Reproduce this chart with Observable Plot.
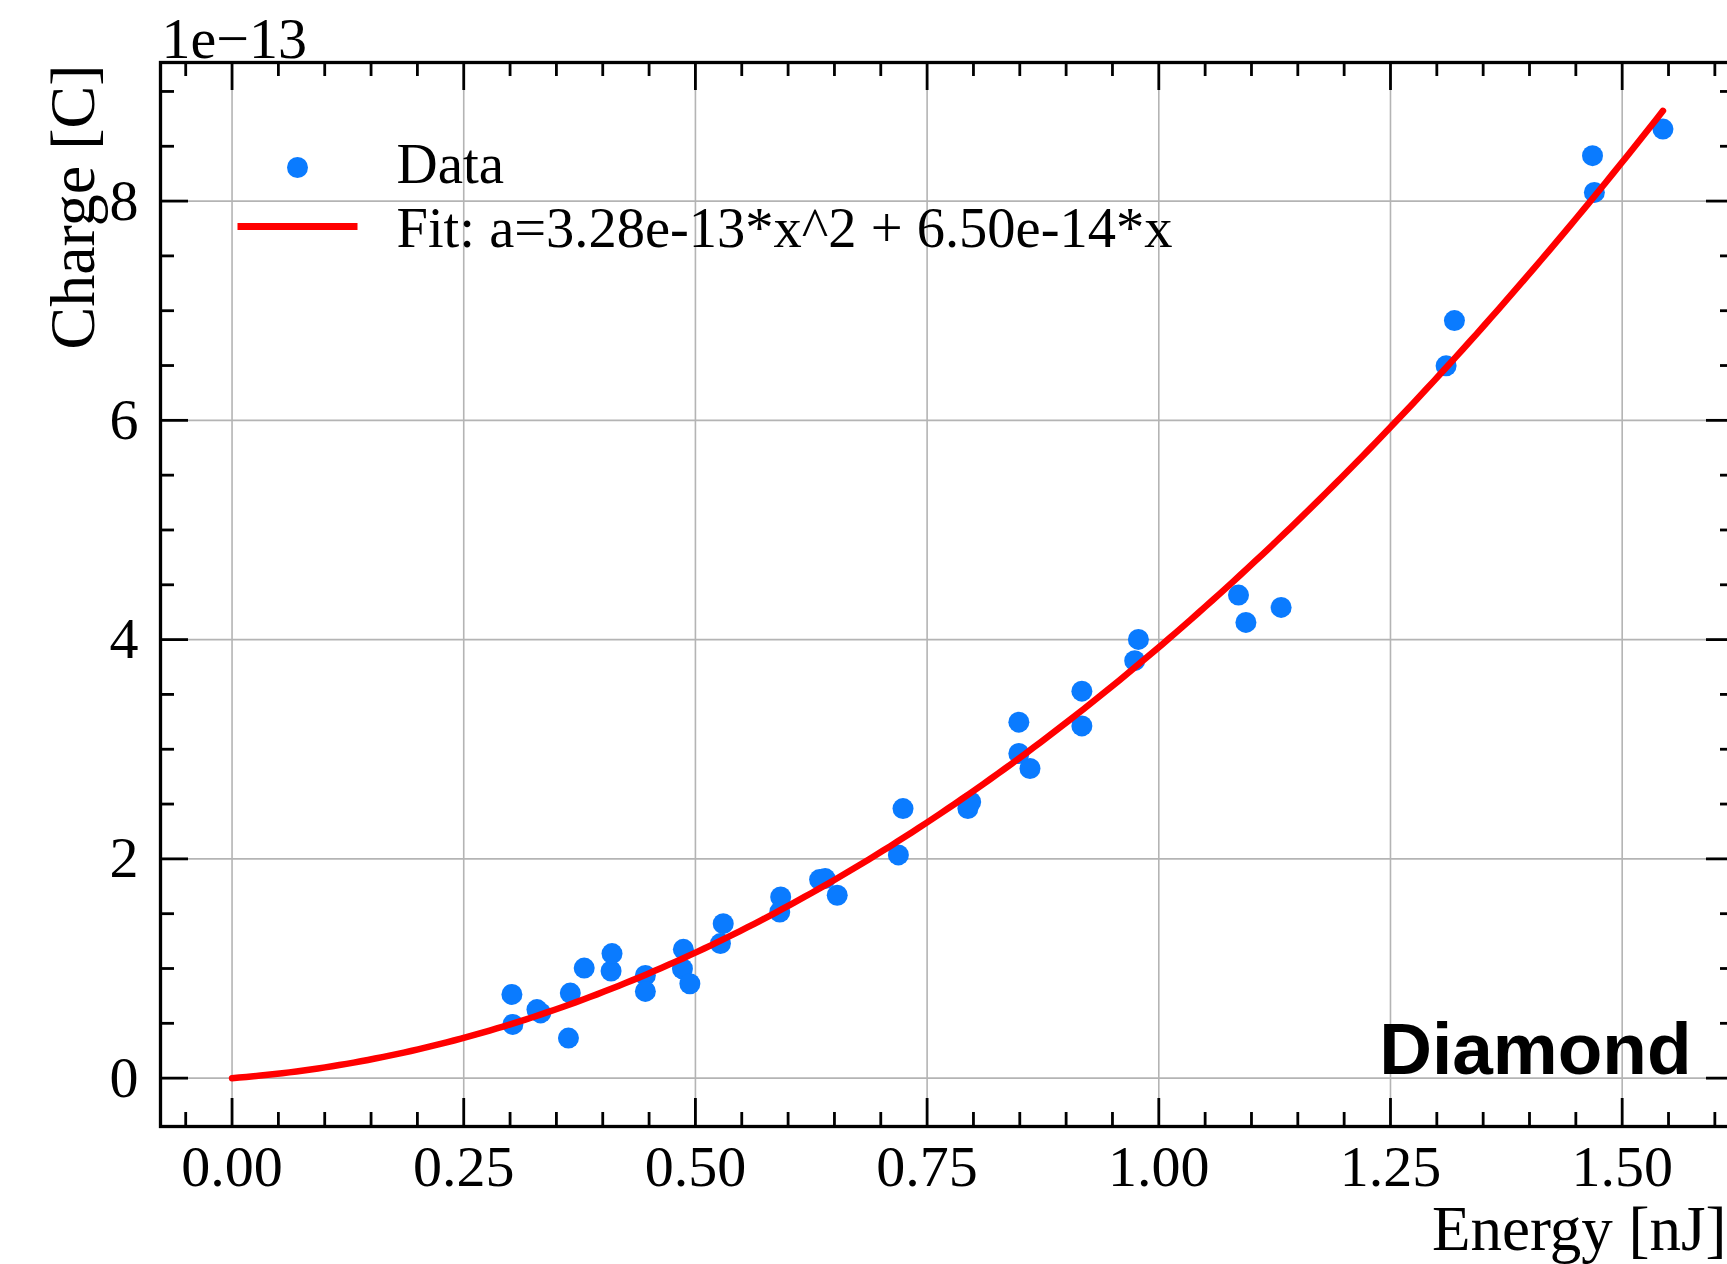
<!DOCTYPE html>
<html>
<head>
<meta charset="utf-8">
<script src="https://cdn.jsdelivr.net/npm/d3@7"></script>
<script src="https://cdn.jsdelivr.net/npm/@observablehq/plot@0.6"></script>
<style>
  html, body { margin: 0; padding: 0; background: #fff; overflow: hidden; }
  #chart { width: 1727px; height: 1264px; overflow: hidden; position: relative; }
  #chart svg { max-width: none !important; }
</style>
</head>
<body>
<div id="chart"></div>
<script>
// ---- data (charge in units of 1e-13 C, energy in nJ) ----
const energy = [0.302, 0.303, 0.329, 0.333, 0.363, 0.365, 0.380, 0.409, 0.410, 0.446,
                0.446, 0.487, 0.486, 0.494, 0.527, 0.530, 0.592, 0.591, 0.634, 0.640,
                0.653, 0.719, 0.724, 0.794, 0.797, 0.849, 0.849, 0.861, 0.917, 0.917,
                0.974, 0.978, 1.086, 1.094, 1.132, 1.310, 1.319, 1.468, 1.470, 1.544];
const charge = [0.764, 0.490, 0.625, 0.595, 0.365, 0.776, 1.004, 0.977, 1.136, 0.937,
                0.791, 1.175, 0.998, 0.861, 1.227, 1.409, 1.652, 1.515, 1.811, 1.820,
                1.668, 2.036, 2.459, 2.459, 2.519, 3.247, 2.961, 2.824, 3.530, 3.213,
                3.808, 4.002, 4.406, 4.157, 4.294, 6.497, 6.910, 8.414, 8.079, 8.657];

// fit coefficients as printed in the legend (in units of 1e-13)
const fitA = 3.28;   // 3.28e-13 * x^2
const fitB = 0.65;   // 6.50e-14 * x

const xTicks = [0, 0.25, 0.5, 0.75, 1.0, 1.25, 1.5];
const yTicks = [0, 2, 4, 6, 8];

const dataLabel = "Data";
const fitLabel = "Fit: a=3.28e-13*x^2 + 6.50e-14*x";
const offsetLabel = "1e\u221213";
const sampleLabel = "Diamond";
const xLabel = "Energy [nJ]";
const yLabel = "Charge [C]";

// ---- derived tables ----
const points = energy.map((e, i) => ({energy: e, charge: charge[i]}));
const xMax = d3.max(energy);
const fitN = 200;
const fitCurve = d3.range(fitN + 1).map(i => {
  const x = xMax * i / fitN;
  return {energy: x, charge: fitA * x * x + fitB * x};
});
const xMinor = d3.range(-1, 33).filter(i => i % 5 !== 0).map(i => i * 0.05);
const yMinor = d3.range(1, 19).filter(i => i % 4 !== 0).map(i => i * 0.5);

// matplotlib-like 5% margins
const x0 = 0, x1 = xMax;
const y0 = 0, y1 = Math.max(d3.max(charge), d3.max(fitCurve, d => d.charge));
const xDomain = [x0 - 0.05 * (x1 - x0), x1 + 0.05 * (x1 - x0)];
const yDomain = [y0 - 0.05 * (y1 - y0), y1 + 0.05 * (y1 - y0)];

// ---- layout ----
const W = 1760, H = 1264;
const mL = 160, mR = 26, mT = 62, mB = 138;
const fw = W - mL - mR, fh = H - mT - mB;
const majorLen = 28, minorLen = 14, tickW = 2.8;

const serif = "'Liberation Serif', 'Times New Roman', 'DejaVu Serif', serif";
const sans = "'Liberation Sans', Arial, 'DejaVu Sans', sans-serif";
const blue = "#0a7bff";
const red = "#ff0000";
const gridColor = "#b4b4b4";

const lineSymbol = {
  draw(ctx) { ctx.rect(-60, -3.4, 120, 6.8); }
};

const svg = Plot.plot({
  width: W,
  height: H,
  marginLeft: mL,
  marginRight: mR,
  marginTop: mT,
  marginBottom: mB,
  style: {background: "#fff", color: "#000", fontFamily: serif, fontSize: "58px", maxWidth: "none", overflow: "visible"},
  x: {domain: xDomain, ticks: xTicks, tickFormat: ".2f", tickSize: 0, tickPadding: 18, label: null},
  y: {domain: yDomain, ticks: yTicks, tickFormat: "d", tickSize: 0, tickPadding: 22, label: null},
  marks: [
    // grid
    Plot.ruleX(xTicks, {stroke: gridColor, strokeWidth: 1.6}),
    Plot.ruleY(yTicks, {stroke: gridColor, strokeWidth: 1.6}),
    // data
    Plot.dot(points, {x: "energy", y: "charge", r: 10.5, fill: blue}),
    Plot.line(fitCurve, {x: "energy", y: "charge", stroke: red, strokeWidth: 6.5}),
    // frame
    Plot.frame({stroke: "#000", strokeWidth: 3.3}),
    // inward ticks: bottom / top
    Plot.ruleX(xTicks, {insetTop: fh - majorLen, stroke: "#000", strokeWidth: tickW}),
    Plot.ruleX(xMinor, {insetTop: fh - minorLen, stroke: "#000", strokeWidth: tickW}),
    Plot.ruleX(xTicks, {insetBottom: fh - majorLen, stroke: "#000", strokeWidth: tickW}),
    Plot.ruleX(xMinor, {insetBottom: fh - minorLen, stroke: "#000", strokeWidth: tickW}),
    // inward ticks: left / right
    Plot.ruleY(yTicks, {insetRight: fw - majorLen, stroke: "#000", strokeWidth: tickW}),
    Plot.ruleY(yMinor, {insetRight: fw - minorLen, stroke: "#000", strokeWidth: tickW}),
    Plot.ruleY(yTicks, {insetLeft: fw - majorLen, stroke: "#000", strokeWidth: tickW}),
    Plot.ruleY(yMinor, {insetLeft: fw - minorLen, stroke: "#000", strokeWidth: tickW}),
    // offset text
    Plot.text([offsetLabel], {text: d => d, frameAnchor: "top-left", dx: 1, dy: -5,
      textAnchor: "start", lineAnchor: "bottom", fontSize: 58, fontFamily: serif}),
    // axis labels
    Plot.text([yLabel], {text: d => d, frameAnchor: "top-left", dx: -67, dy: 2, rotate: -90,
      textAnchor: "end", lineAnchor: "bottom", fontSize: 64, fontFamily: serif}),
    Plot.text([xLabel], {text: d => d, frameAnchor: "bottom-right", dx: -8, dy: 123,
      textAnchor: "end", lineAnchor: "bottom", fontSize: 63, fontFamily: serif}),
    // legend
    Plot.dot([dataLabel], {frameAnchor: "top-left", dx: 137, dy: 105, r: 10.5, fill: blue}),
    Plot.dot([fitLabel], {frameAnchor: "top-left", dx: 137, dy: 164, r: 10, symbol: lineSymbol, fill: red}),
    Plot.text([dataLabel], {text: d => d, frameAnchor: "top-left", dx: 236, dy: 120,
      textAnchor: "start", lineAnchor: "bottom", fontSize: 57, fontFamily: serif}),
    Plot.text([fitLabel], {text: d => d, frameAnchor: "top-left", dx: 236, dy: 184,
      textAnchor: "start", lineAnchor: "bottom", fontSize: 56.5, fontFamily: serif}),
    // sample annotation
    Plot.text([sampleLabel], {text: d => d, frameAnchor: "bottom-right", dx: -43, dy: -53,
      textAnchor: "end", lineAnchor: "bottom", fontSize: 73, fontWeight: "bold", fontFamily: sans})
  ]
});
svg.style.maxWidth = "none";
document.getElementById("chart").appendChild(svg);
</script>
</body>
</html>
